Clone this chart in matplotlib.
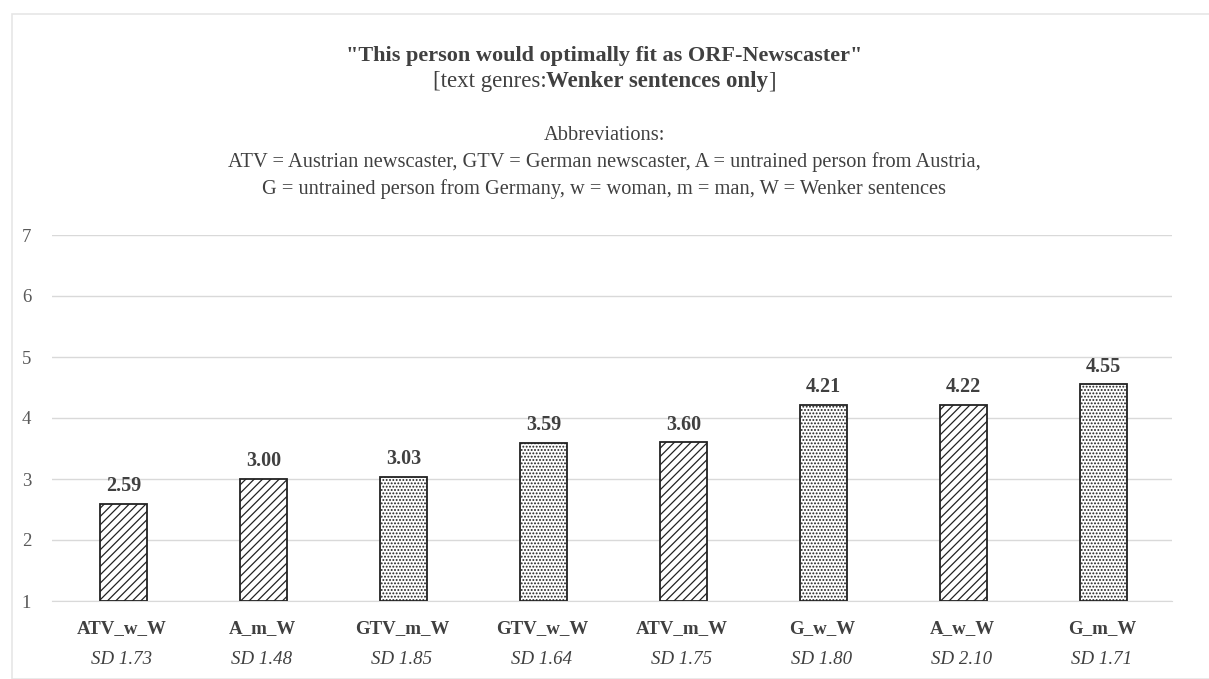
"""Bar chart: ORF-newscaster fit ratings, Wenker sentences only."""

import matplotlib

matplotlib.use("Agg")

import matplotlib.pyplot as plt  # noqa: E402
from matplotlib.patches import Rectangle  # noqa: E402
from matplotlib.transforms import offset_copy  # noqa: E402

categories = ["ATV_w_W", "A_m_W", "GTV_m_W", "GTV_w_W", "ATV_m_W", "G_w_W", "A_w_W", "G_m_W"]
means = [2.59, 3.00, 3.03, 3.59, 3.60, 4.21, 4.22, 4.55]
sds = ["1.73", "1.48", "1.85", "1.64", "1.75", "1.80", "2.10", "1.71"]
origin = ["A", "A", "G", "G", "A", "G", "A", "G"]  # Austrian vs German speaker
yticks = [1, 2, 3, 4, 5, 6, 7]

plt.rcParams["font.family"] = ["Liberation Serif", "DejaVu Serif"]
plt.rcParams["hatch.linewidth"] = 0.9
TXT = "#404040"
W, H = 1209, 679

fig = plt.figure(figsize=(W / 100, H / 100), dpi=100)
# axes box in pixel coords: left 52, right 1172, top 235, bottom 601
ax = fig.add_axes([52 / W, 1 - 601 / H, (1172 - 52) / W, (601 - 235) / H])

hatches = {"A": "////", "G": "....."}
x = range(len(categories))
for xi, m, o in zip(x, means, origin):
    ax.bar(xi + 0.01, m - 1, bottom=1, width=0.335, facecolor="white", edgecolor="#222222",
           hatch=hatches[o], linewidth=1.3, zorder=3)
    ax.text(xi + 0.01, m + 0.29, f"{m:.2f}", ha="center", va="center", fontsize=14.5,
            fontweight="bold", color=TXT)

ax.set_xlim(-0.5, len(categories) - 0.5)
ax.set_ylim(1, 7)
ax.set_yticks(yticks)
ax.tick_params(axis="y", length=0, labelsize=13.5, labelcolor="#595959", pad=15)
ax.set_xticks([])
ax.grid(axis="y", color="#d9d9d9", lw=1, zorder=0)
for s in ["top", "right", "left"]:
    ax.spines[s].set_visible(False)
ax.spines["bottom"].set_color("#d9d9d9")

xt = ax.get_xaxis_transform()
cat_tr = offset_copy(xt, fig=fig, y=-28, units="dots")
sd_tr = offset_copy(xt, fig=fig, y=-59, units="dots")
for xi, c, sd in zip(x, categories, sds):
    ax.text(xi, 0, c, transform=cat_tr, ha="center", va="center",
            fontsize=13.6, fontweight="bold", color=TXT)
    ax.text(xi, 0, f"SD {sd}", transform=sd_tr, ha="center", va="center",
            fontsize=13.6, style="italic", color=TXT)

# titles
fig.text(0.5, 1 - 56 / H, '"This person would optimally fit as ORF-Newscaster"', ha="center",
         va="center", fontsize=16, fontweight="bold", color=TXT)
parts = [("[text genres:", "normal"), ("Wenker sentences only", "bold"), ("]", "normal")]
fig.canvas.draw()
r = fig.canvas.get_renderer()
tmp = [fig.text(0, 0, s, fontsize=16.5, fontweight=w) for s, w in parts]
widths = [t.get_window_extent(r).width for t in tmp]
for t in tmp:
    t.remove()
xpos = (W - sum(widths)) / 2
for (s, w), wd in zip(parts, widths):
    fig.text(xpos / W, 1 - 82 / H, s, ha="left", va="center", fontsize=16.5, fontweight=w, color=TXT)
    xpos += wd

fig.text(0.5, 1 - 136 / H, "Abbreviations:", ha="center", va="center", fontsize=14.7, color=TXT)
fig.text(0.5, 1 - 162 / H,
         "ATV = Austrian newscaster, GTV = German newscaster, A = untrained person from Austria,",
         ha="center", va="center", fontsize=14.7, color=TXT)
fig.text(0.5, 1 - 189 / H,
         "G = untrained person from Germany, w = woman, m = man, W = Wenker sentences",
         ha="center", va="center", fontsize=14.7, color=TXT)

# light frame around chart area
fig.patches.append(Rectangle((12 / W, 0), 1.2, 1 - 14 / H, transform=fig.transFigure,
                             fill=False, edgecolor="#e6e6e6", lw=1.2))

fig.savefig("out.png", dpi=100)
plt.close(fig)
